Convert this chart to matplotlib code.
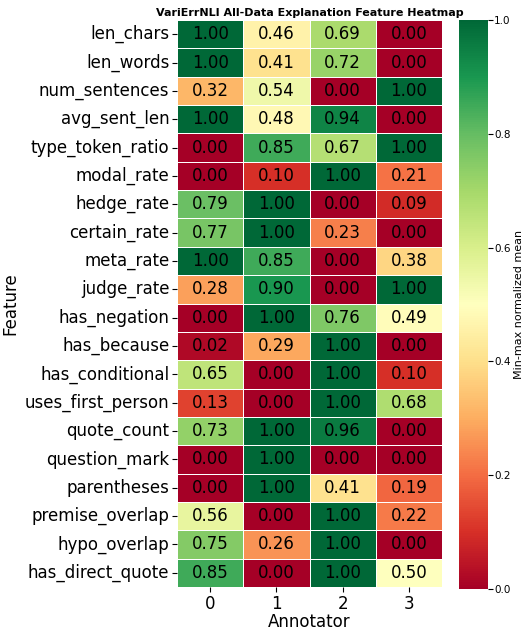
import numpy as np
import pandas as pd
import matplotlib
matplotlib.use("Agg")
import matplotlib.pyplot as plt
import seaborn as sns

features = ["len_chars", "len_words", "num_sentences", "avg_sent_len", "type_token_ratio",
            "modal_rate", "hedge_rate", "certain_rate", "meta_rate", "judge_rate",
            "has_negation", "has_because", "has_conditional", "uses_first_person",
            "quote_count", "question_mark", "parentheses", "premise_overlap",
            "hypo_overlap", "has_direct_quote"]
annotators = ["0", "1", "2", "3"]

ann0 = [1.00, 1.00, 0.32, 1.00, 0.00, 0.00, 0.79, 0.77, 1.00, 0.28,
        0.00, 0.02, 0.65, 0.13, 0.73, 0.00, 0.00, 0.56, 0.75, 0.85]
ann1 = [0.46, 0.41, 0.54, 0.48, 0.85, 0.10, 1.00, 1.00, 0.85, 0.90,
        1.00, 0.29, 0.00, 0.00, 1.00, 1.00, 1.00, 0.00, 0.26, 0.00]
ann2 = [0.69, 0.72, 0.00, 0.94, 0.67, 1.00, 0.00, 0.23, 0.00, 0.00,
        0.76, 1.00, 1.00, 1.00, 0.96, 0.00, 0.41, 1.00, 1.00, 1.00]
ann3 = [0.00, 0.00, 1.00, 0.00, 1.00, 0.21, 0.09, 0.00, 0.38, 1.00,
        0.49, 0.00, 0.10, 0.68, 0.00, 0.00, 0.19, 0.22, 0.00, 0.50]

df = pd.DataFrame({"0": ann0, "1": ann1, "2": ann2, "3": ann3}, index=features)

fig = plt.figure(figsize=(5.24, 6.31), dpi=100)
ax = fig.add_axes([177 / 524, 1 - 587 / 631, 265 / 524, 567 / 631])
cax = fig.add_axes([459 / 524, 1 - 589 / 631, 29 / 524, 569 / 631])

sns.heatmap(df, ax=ax, cbar_ax=cax, cmap="RdYlGn", vmin=0, vmax=1,
            annot=True, fmt=".2f", annot_kws={"fontsize": 12, "color": "black"},
            linewidths=0.6, linecolor="white",
            cbar_kws={"label": "Min-max normalized mean"})

ax.set_title("VariErrNLI All-Data Explanation Feature Heatmap", fontsize=8, fontweight="bold", pad=3)
ax.set_xlabel("Annotator", fontsize=12, labelpad=0)
ax.set_ylabel("Feature", fontsize=12, labelpad=4)
ax.tick_params(axis="both", labelsize=12, pad=2)
plt.setp(ax.get_yticklabels(), rotation=0)
cax.tick_params(labelsize=7.5, pad=1)
cax.set_ylabel("Min-max normalized mean", fontsize=8, labelpad=2)

fig.savefig("out.png", dpi=100)
